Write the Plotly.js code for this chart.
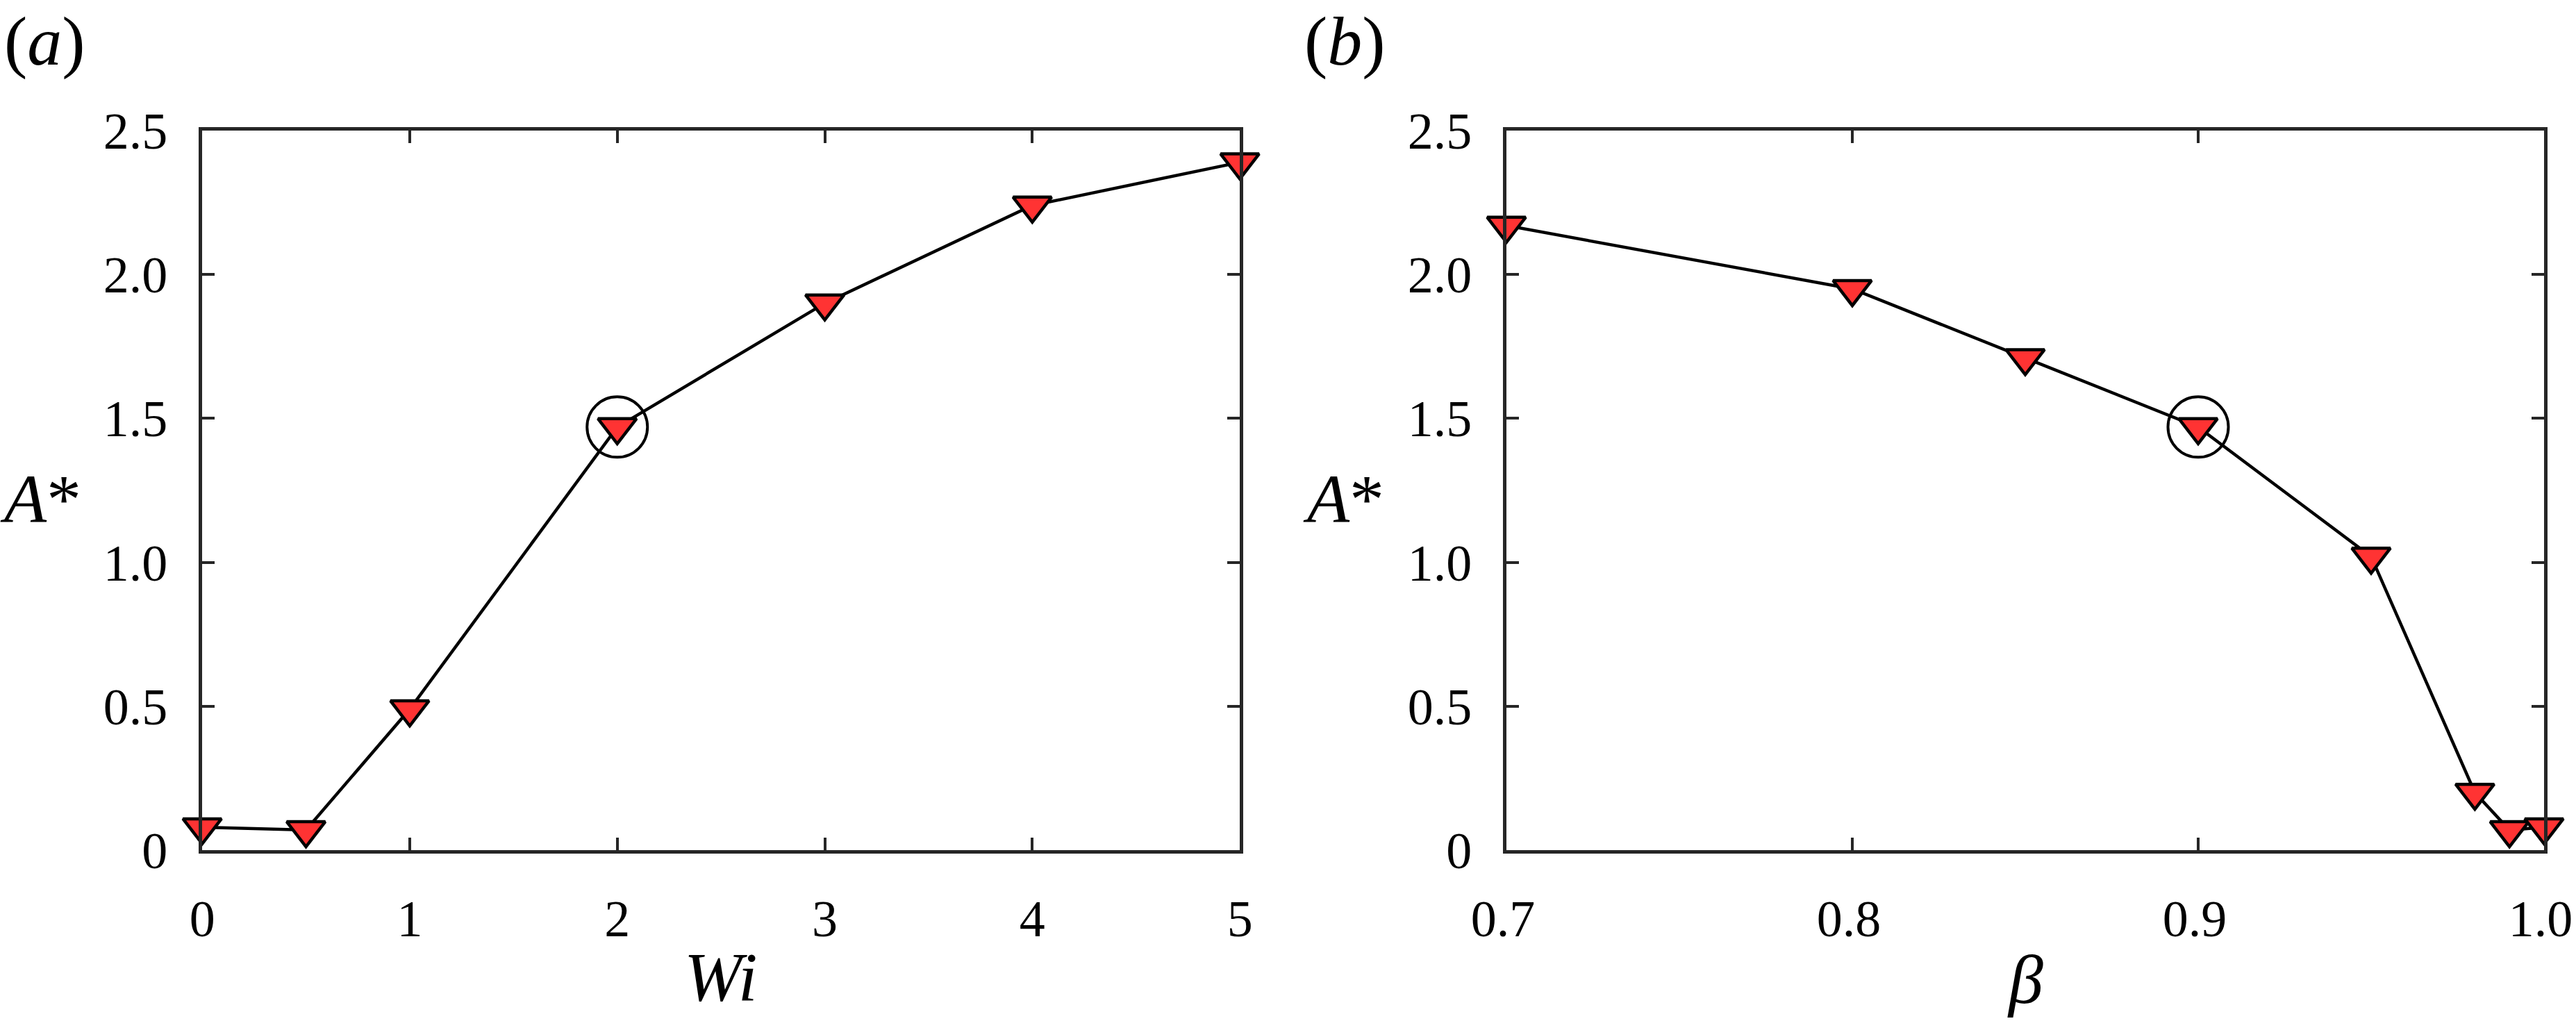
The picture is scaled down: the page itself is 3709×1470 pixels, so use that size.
<!DOCTYPE html>
<html>
<head>
<meta charset="utf-8">
<script src="https://cdn.plot.ly/plotly-3.0.1.min.js"></script>
<style>
html,body{margin:0;padding:0;background:#fff;}
#chart{width:3709px;height:1470px;}
</style>
</head>
<body>
<div id="chart"></div>
<script>
// Panel (a): A* versus Wi
const wiValues = [0, 0.5, 1, 2, 3, 4, 5];
const aStarWi = [0.08, 0.07, 0.49, 1.47, 1.90, 2.24, 2.39];
const wiHighlightIndex = 3;

// Panel (b): A* versus beta
const betaValues = [0.7, 0.8, 0.85, 0.9, 0.95, 0.98, 0.99, 1.0];
const aStarBeta = [2.17, 1.95, 1.71, 1.47, 1.02, 0.20, 0.07, 0.08];
const betaHighlightIndex = 3;

// Tick labels
const wiTicks = [0, 1, 2, 3, 4, 5];
const wiTickText = ['0', '1', '2', '3', '4', '5'];
const betaTicks = [0.7, 0.8, 0.9, 1.0];
const betaTickText = ['0.7', '0.8', '0.9', '1.0'];
const aTicks = [0, 0.5, 1, 1.5, 2, 2.5];
const aTickText = ['0', '0.5', '1.0', '1.5', '2.0', '2.5'];

// Text labels
const panelLabels = ['(<i>a</i>)', '(<i>b</i>)'];
const xTitles = ['<i>Wi</i>', '<i>β</i>'];
const yTitle = '<i>A</i>*';

const FONT = 'Liberation Serif';
const FRAME = '#262626';
const RED = '#ff3333';
const W = 3709, H = 1470;

function seriesTrace(x, y, xa, ya) {
  return {
    x: x, y: y, xaxis: xa, yaxis: ya,
    type: 'scatter', mode: 'lines+markers', cliponaxis: false,
    line: {color: '#000000', width: 4.5},
    marker: {symbol: 'triangle-down', size: 48, color: RED,
             line: {color: '#000000', width: 4.5}},
    hoverinfo: 'x+y', showlegend: false
  };
}
function circleTrace(x, y, idx, xa, ya) {
  return {
    x: [x[idx]], y: [y[idx]], xaxis: xa, yaxis: ya,
    type: 'scatter', mode: 'markers', cliponaxis: false,
    marker: {symbol: 'circle-open', size: 87, color: '#000000',
             line: {color: '#000000', width: 4}},
    hoverinfo: 'skip', showlegend: false
  };
}

const data = [
  seriesTrace(wiValues, aStarWi, 'x', 'y'),
  circleTrace(wiValues, aStarWi, wiHighlightIndex, 'x', 'y'),
  seriesTrace(betaValues, aStarBeta, 'x2', 'y2'),
  circleTrace(betaValues, aStarBeta, betaHighlightIndex, 'x2', 'y2')
];

const axisCommon = {
  showline: true, linecolor: FRAME, linewidth: 5, mirror: 'ticks',
  ticks: 'inside', ticklen: 18, tickwidth: 4, tickcolor: FRAME,
  showgrid: false, zeroline: false, fixedrange: true,
  tickfont: {family: FONT, size: 74, color: '#000000'},
  ticklabeloverflow: 'allow',
  automargin: false
};
const yDomain = [0.1673, 0.8721];

function ann(text, xpx, ypx, yanchor) {
  return {text: text, xref: 'paper', yref: 'paper', x: xpx / W, y: 1 - ypx / H,
          xanchor: 'center', yanchor: yanchor || 'middle', showarrow: false,
          font: {family: FONT, size: 100, color: '#000000'}};
}

const layout = {
  width: W, height: H,
  margin: {l: 0, r: 0, t: 0, b: 0, pad: 0},
  paper_bgcolor: '#ffffff', plot_bgcolor: '#ffffff',
  showlegend: false,
  xaxis: Object.assign({}, axisCommon, {
    domain: [0.0785, 0.4813], range: [0, 5], anchor: 'y',
    tickmode: 'array', tickvals: wiTicks, ticktext: wiTickText,
    ticklabelstandoff: 30
  }),
  yaxis: Object.assign({}, axisCommon, {
    domain: yDomain, range: [0, 2.5], anchor: 'x',
    tickmode: 'array', tickvals: aTicks, ticktext: aTickText,
    ticklabelstandoff: 30
  }),
  xaxis2: Object.assign({}, axisCommon, {
    domain: [0.5848, 0.9876], range: [0.7, 1.0], anchor: 'y2',
    tickmode: 'array', tickvals: betaTicks, ticktext: betaTickText,
    ticklabelstandoff: 30, ticklabelshift: -5
  }),
  yaxis2: Object.assign({}, axisCommon, {
    domain: yDomain, range: [0, 2.5], anchor: 'x2',
    tickmode: 'array', tickvals: aTicks, ticktext: aTickText,
    ticklabelstandoff: 30
  }),
  annotations: [
    ann(panelLabels[0], 64, 2, 'top'),
    ann(panelLabels[1], 1936, 2, 'top'),
    ann(xTitles[0], 1038, 1406),
    ann(xTitles[1], 2916, 1410),
    ann(yTitle, 58, 718),
    ann(yTitle, 1934, 718)
  ]
};

Plotly.newPlot('chart', data, layout, {staticPlot: true, displayModeBar: false});
</script>
</body>
</html>
